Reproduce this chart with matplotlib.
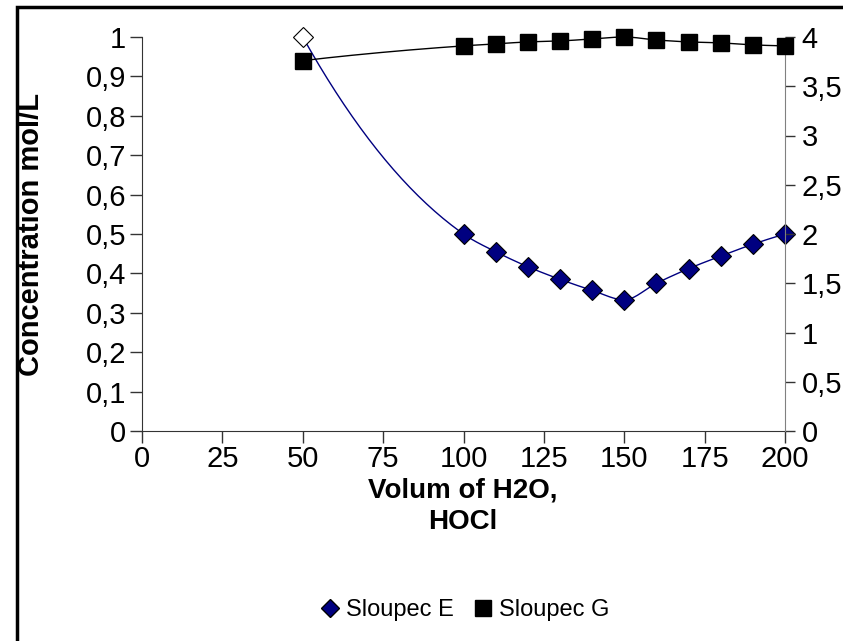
import numpy as np
import matplotlib.pyplot as plt
from matplotlib.patches import Rectangle
from matplotlib.lines import Line2D
from matplotlib.ticker import FuncFormatter

plt.rcParams['font.family'] = ['Liberation Sans', 'DejaVu Sans']

# dados
volume = [50, 100, 110, 120, 130, 140, 150, 160, 170, 180, 190, 200]
sloupec_e = [1.0, 0.5, 0.455, 0.417, 0.385, 0.357, 0.333, 0.375, 0.412, 0.444, 0.474, 0.5]
sloupec_g = [3.76, 3.91, 3.93, 3.95, 3.96, 3.98, 4.0, 3.97, 3.95, 3.94, 3.92, 3.91]

x_ticks = [0, 25, 50, 75, 100, 125, 150, 175, 200]
y_left_ticks = [0, 0.1, 0.2, 0.3, 0.4, 0.5, 0.6, 0.7, 0.8, 0.9, 1.0]
y_right_ticks = [0, 0.5, 1, 1.5, 2, 2.5, 3, 3.5, 4]


def curva_suave(x, y, n=40):
    # Hermite com tangentes tipo PCHIP (só para desenhar a linha suavizada)
    x = np.array(x, float)
    y = np.array(y, float)
    h = np.diff(x)
    delta = np.diff(y) / h
    d = np.zeros_like(y)
    for k in range(1, len(x) - 1):
        if delta[k - 1] * delta[k] > 0:
            w1 = 2 * h[k] + h[k - 1]
            w2 = h[k] + 2 * h[k - 1]
            d[k] = (w1 + w2) / (w1 / delta[k - 1] + w2 / delta[k])
    d[0] = ((2 * h[0] + h[1]) * delta[0] - h[0] * delta[1]) / (h[0] + h[1])
    d[-1] = ((2 * h[-1] + h[-2]) * delta[-1] - h[-1] * delta[-2]) / (h[-1] + h[-2])
    xs, ys = [], []
    t = np.linspace(0, 1, n)
    h00 = 2 * t**3 - 3 * t**2 + 1
    h10 = t**3 - 2 * t**2 + t
    h01 = -2 * t**3 + 3 * t**2
    h11 = t**3 - t**2
    for i in range(len(x) - 1):
        xs.append(x[i] + t * h[i])
        ys.append(h00 * y[i] + h10 * h[i] * d[i] + h01 * y[i + 1] + h11 * h[i] * d[i + 1])
    return np.concatenate(xs), np.concatenate(ys)


virgula = FuncFormatter(lambda v, p: f"{v:g}".replace('.', ','))

fig = plt.figure(figsize=(8.43, 6.41), dpi=100)
fig.patches.append(Rectangle((17 / 843, -0.1), 1.2, 1 - 7 / 641 + 0.1, transform=fig.transFigure,
                             fill=False, edgecolor='black', linewidth=2.5))

ax = fig.add_axes([142 / 843, 1 - 431 / 641, 643 / 843, 394 / 641])
ax2 = ax.twinx()

# série E (eixo da esquerda)
sx, sy = curva_suave(volume, sloupec_e)
ax.plot(sx, sy, color='#000080', linewidth=1, zorder=3, clip_on=False)
ax.plot(volume[1:], sloupec_e[1:], linestyle='none', marker='D', markersize=10,
        markerfacecolor='#000080', markeredgecolor='black', markeredgewidth=0.8, zorder=4, clip_on=False)
ax.plot(volume[:1], sloupec_e[:1], linestyle='none', marker='D', markersize=10,
        markerfacecolor='white', markeredgecolor='black', markeredgewidth=0.8, zorder=4, clip_on=False)

# série G (eixo da direita)
gx, gy = curva_suave(volume, sloupec_g)
ax2.plot(gx, gy, color='black', linewidth=1, zorder=3, clip_on=False)
ax2.plot(volume, sloupec_g, linestyle='none', marker='s', markersize=12,
         markerfacecolor='black', markeredgecolor='black', zorder=4, clip_on=False)

ax.set_xlim(0, 200)
ax.set_ylim(0, 1)
ax2.set_ylim(0, 4)
ax.set_xticks(x_ticks)
ax.set_yticks(y_left_ticks)
ax2.set_yticks(y_right_ticks)
ax.yaxis.set_major_formatter(virgula)
ax2.yaxis.set_major_formatter(virgula)

for a in (ax, ax2):
    a.spines['top'].set_visible(False)
    a.patch.set_visible(False)
ax2.spines['left'].set_visible(False)
ax2.spines['bottom'].set_visible(False)
ax.spines['right'].set_visible(False)
ax.spines['left'].set_color('#333333')
ax.spines['bottom'].set_color('#333333')
ax2.spines['right'].set_color('#808080')
ax.tick_params(axis='both', labelsize=21, length=8.5, width=1, color='#333333', pad=3)
ax.tick_params(axis='x', pad=1.5)
ax2.tick_params(axis='y', labelsize=21, length=7, width=1, color='#333333', pad=5)

ax.set_xlabel('Volum of H2O,\nHOCl', fontsize=20, fontweight='bold', linespacing=1.3, va='top')
ax.xaxis.set_label_coords(0.499, -0.118)
ax.set_ylabel('Concentration mol/L', fontsize=21, fontweight='bold', va='center')
ax.yaxis.set_label_coords(-0.172, 0.5)

handles = [
    Line2D([], [], linestyle='none', marker='D', markersize=9, markerfacecolor='#000080', markeredgecolor='black'),
    Line2D([], [], linestyle='none', marker='s', markersize=12, markerfacecolor='black', markeredgecolor='black'),
]
fig.legend(handles, ['Sloupec E', 'Sloupec G'], loc='center', bbox_to_anchor=(465 / 843, 1 - 610 / 641),
           ncol=2, frameon=False, fontsize=17, handlelength=0.8, handletextpad=0.3, columnspacing=0.8)

plt.savefig('out.png', dpi=100)
